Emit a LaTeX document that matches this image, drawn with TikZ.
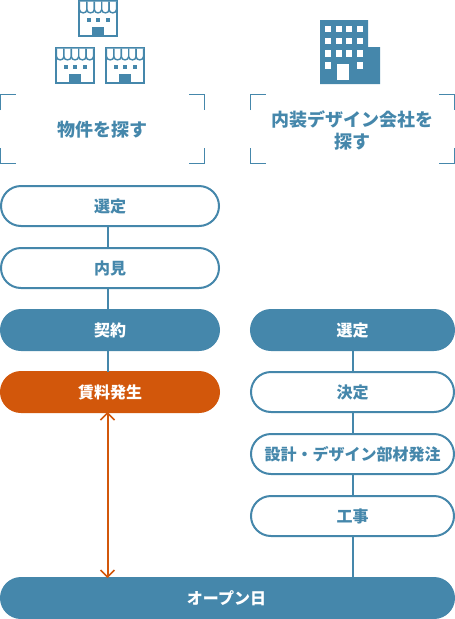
\documentclass[tikz,border=0pt]{standalone}
\usepackage{fontspec}
\setmainfont{Noto Sans CJK JP}
\usetikzlibrary{arrows.meta}
\definecolor{bl}{HTML}{4587AB}
\definecolor{og}{HTML}{D2570B}
\newcommand\ptxt[1]{\raisebox{-6.6pt}[0pt][0pt]{#1}}
\tikzset{
  pill/.style={rounded corners=20pt,minimum height=40pt,line width=2pt,draw=bl,fill=white,text=bl,font=\fontsize{16}{18}\selectfont\bfseries,inner sep=0pt,outer sep=0pt},
  wl/.style={minimum width=218pt},
  wr/.style={minimum width=203pt},
  solidpill/.style={fill=bl,text=white},
  orangepill/.style={draw=og,fill=og,text=white},
  conn/.style={draw=bl,line width=2pt},
  rentline/.style={draw=og,line width=2pt},
  rentbarb/.style={draw=og,line width=1.5pt,line join=miter},
  bracket/.style={draw=bl,line width=1pt},
  head/.style={text=bl,font=\fontsize{18}{22}\selectfont\bfseries,align=center,inner sep=0pt},
  store/.pic={
    \fill[white] (0,0) rectangle (40,37);
    \draw[bl,line width=2pt] (1,1) rectangle (39,36);
    \foreach \i in {0,...,4}{
      \draw[bl,line width=1.4pt,fill=white] ({1.5+7.4*\i},1.5) -- ({1.5+7.4*\i},9.5) .. controls ({1.5+7.4*\i},14) and ({1.5+7.4*(\i+1)},14) .. ({1.5+7.4*(\i+1)},9.5) -- ({1.5+7.4*(\i+1)},1.5);
    }
    \foreach \x in {8.5,18,27.5}{\fill[bl] (\x,17.5) rectangle +(4,4);}
    \fill[bl] (14,27) rectangle (26,36);
  }
}
\begin{document}
\begin{tikzpicture}[x=1pt,y=-1pt]
\useasboundingbox (0,0) rectangle (455,619);
% store icons
\pic at (78,0) {store};
\pic at (55,47) {store};
\pic at (105,47) {store};
% building icon
\fill[bl] (320,20) -- (368,20) -- (368,47) -- (380,47) -- (380,84) -- (320,84) -- cycle;
\foreach \x in {325,336,346,357}{
  \foreach \y in {25.5,37.5,50,62}{
    \ifnum\pdfstrcmp{\x\y}{33662}=0\else\ifnum\pdfstrcmp{\x\y}{34662}=0\else
    \fill[white] (\x,\y) rectangle +(6,6.5);
    \fi\fi
  }
}
\fill[white] (337,63.5) rectangle (349,80);
% brackets
\foreach \l/\r in {0.5/204.5,250.5/454.5}{
  \draw[bracket] (\l,110) -- (\l,94.5) -- ({\l+15.5},94.5);
  \draw[bracket] ({\r-15.5},94.5) -- (\r,94.5) -- (\r,110);
  \draw[bracket] (\l,148) -- (\l,163.5) -- ({\l+15.5},163.5);
  \draw[bracket] ({\r-15.5},163.5) -- (\r,163.5) -- (\r,148);
}
\node[head] (h1) at (102.5,130) {物件を探す};
\node[head] (h2) at (352.5,130) {内装デザイン会社を\\探す};
% guide coordinates
\coordinate (lx) at (107.5,0);
\coordinate (rx) at (352.5,0);
\node[pill,wl] (a1) at (110,206) {\ptxt{選定}};
\node[pill,wl] (a2) at (110,268) {\ptxt{内見}};
\node[pill,wl,solidpill] (a3) at (110,330) {\ptxt{契約}};
\node[pill,wl,orangepill] (a4) at (110,392) {\ptxt{賃料発生}};
\node[pill,wr,solidpill] (b1) at (352.5,330) {\ptxt{選定}};
\node[pill,wr] (b2) at (352.5,392) {\ptxt{決定}};
\node[pill,wr] (b3) at (352.5,454) {\ptxt{設計・デザイン部材発注}};
\node[pill,wr] (b4) at (352.5,516) {\ptxt{工事}};
\node[pill,minimum width=453pt,solidpill] (o) at (227.5,598) {\ptxt{オープン日\kern2pt}};
\draw[conn] (a1.south -| lx) -- (a2.north -| lx);
\draw[conn] (a2.south -| lx) -- (a3.north -| lx);
\draw[conn] (a3.south -| lx) -- (a4.north -| lx);
\draw[conn] (b1.south -| rx) -- (b2.north -| rx);
\draw[conn] (b2.south -| rx) -- (b3.north -| rx);
\draw[conn] (b3.south -| rx) -- (b4.north -| rx);
\draw[conn] (b4.south -| rx) -- (o.north -| rx);
\coordinate (up) at ([yshift=-1pt]a4.south -| lx);
\coordinate (dn) at ([yshift=1pt]o.north -| lx);
\draw[rentline] (up) -- (dn);
\draw[rentbarb] ([xshift=-7pt,yshift=-7pt]up) -- (up) -- ([xshift=7pt,yshift=-7pt]up);
\draw[rentbarb] ([xshift=-7pt,yshift=7pt]dn) -- (dn) -- ([xshift=7pt,yshift=7pt]dn);
\end{tikzpicture}
\end{document}
